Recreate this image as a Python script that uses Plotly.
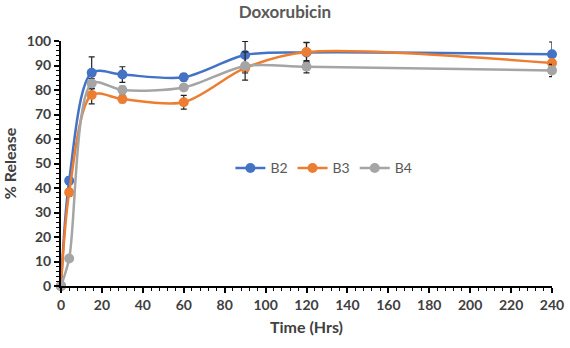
import plotly.graph_objects as go

time_hrs = [0, 4, 15, 30, 60, 90, 120, 240]
b2 = [0, 43, 87, 86.3, 85.2, 94.3, 95.3, 94.6]
b3 = [0, 38.2, 78, 76.3, 75, 89, 95.5, 91]
b4 = [0, 11.2, 82.7, 80, 81, 89.8, 89.5, 88]
b2_err = [0, 1.5, 6.5, 3.2, 1.5, 5.5, 4, 5]
b3_err = [0, 1.5, 3.7, 1.5, 2.8, 2, 4, 1]
b4_err = [0, 1, 2, 1.5, 1, 5.8, 2.5, 2.5]

series = [("B2", b2, b2_err, "#4472C4"), ("B3", b3, b3_err, "#ED7D31"), ("B4", b4, b4_err, "#A5A5A5")]

fig = go.Figure()
for name, vals, err, col in series:
    fig.add_trace(go.Scatter(
        x=time_hrs, y=vals, name=name, mode="lines+markers",
        line=dict(color=col, width=2.5, shape="spline", smoothing=0.85),
        marker=dict(color=col, size=10),
        error_y=dict(type="data", array=err, color="#222222", thickness=1.2, width=3),
        cliponaxis=False,
    ))

font_family = "Lato, Open Sans, sans-serif"
fig.update_layout(
    width=570, height=348,
    margin=dict(l=61, r=18, t=41, b=62, autoexpand=False),
    paper_bgcolor="white", plot_bgcolor="white",
    title=dict(text="<b>Doxorubicin</b>", x=0.5, xanchor="center", y=0.966, yanchor="middle",
               font=dict(family=font_family, size=17, color="#595959")),
    font=dict(family=font_family, color="#404040"),
    legend=dict(orientation="h", x=0.345, xanchor="left", y=0.48, yanchor="middle",
                font=dict(size=14, color="#595959"), bgcolor="rgba(0,0,0,0)"),
    xaxis=dict(range=[0, 240], dtick=20, showgrid=False, zeroline=False, automargin=False,
               showline=True, linecolor="black", linewidth=2,
               ticks="outside", ticklen=5, tickwidth=1.5, tickcolor="black",
               minor=dict(dtick=4, ticks="outside", ticklen=3, tickcolor="black", tickwidth=1),
               tickfont=dict(size=14, color="#404040", family=font_family, weight="bold"),
               title=dict(text="<b>Time (Hrs)</b>", font=dict(size=16, color="#404040"), standoff=10)),
    yaxis=dict(range=[0, 100], dtick=10, showgrid=False, zeroline=False, automargin=False,
               showline=True, linecolor="black", linewidth=2,
               ticks="outside", ticklen=5, tickwidth=1.5, tickcolor="black",
               minor=dict(dtick=2, ticks="outside", ticklen=3, tickcolor="black", tickwidth=1),
               tickfont=dict(size=14, color="#404040", family=font_family, weight="bold"),
               title=dict(text="<b>% Release</b>", font=dict(size=16, color="#404040"), standoff=6)),
)

fig.write_html("out.html", config={"displayModeBar": False},
               post_script="document.body.style.margin='0px';document.body.style.overflow='hidden';")
